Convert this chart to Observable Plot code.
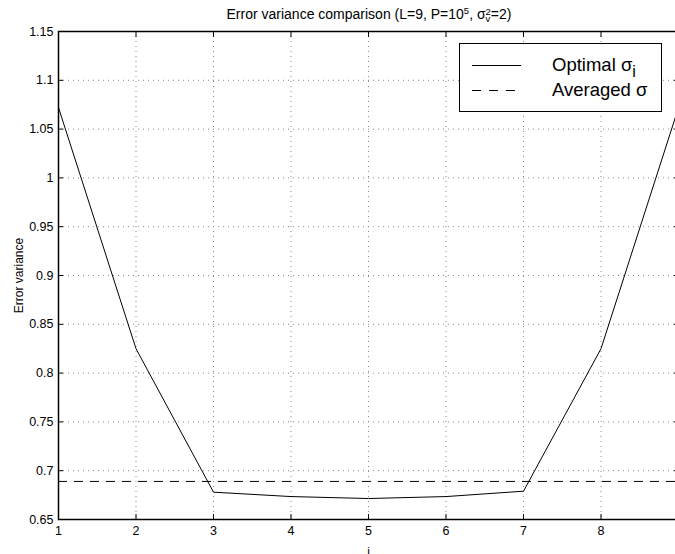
<!DOCTYPE html>
<html>
<head>
<meta charset="utf-8">
<script src="https://cdn.jsdelivr.net/npm/d3@7"></script>
<script src="https://cdn.jsdelivr.net/npm/@observablehq/plot@0.6"></script>
<style>
  html, body { margin: 0; padding: 0; background: #fff; overflow: hidden; }
  #wrap { position: relative; width: 675px; height: 554px; overflow: hidden; font-family: "Liberation Sans", Arial, sans-serif; }
  #title { position: absolute; left: 369px; top: 7px; transform: translateX(-50%); white-space: nowrap; font-size: 14px; line-height: 15px; color: #000; }
  #title sup { font-size: 9.5px; vertical-align: 5px; line-height: 0; }
  .ss { display: inline-block; vertical-align: -3px; line-height: 7px; font-size: 9.5px; text-align: left; }
  #chart svg { max-width: none !important; display: block; }
  #legend { position: absolute; left: 459px; top: 43px; }
</style>
</head>
<body>
<div id="wrap">
  <div id="chart"></div>
  <div id="title">Error variance comparison (L=9, P=10<sup>5</sup>, σ<span class="ss">2<br>v</span>=2)</div>
  <svg id="legend" width="204" height="70" font-family="Liberation Sans, Arial, sans-serif">
    <rect x="0.5" y="0.5" width="202" height="68" fill="#fff" stroke="#000" stroke-width="1"/>
    <line x1="13" x2="62" y1="22.5" y2="22.5" stroke="#000" stroke-width="1"/>
    <line x1="13" x2="62" y1="47.5" y2="47.5" stroke="#000" stroke-width="1" stroke-dasharray="9,8"/>
    <text x="93" y="28" font-size="18.5">Optimal σ<tspan font-size="16" dy="6">i</tspan></text>
    <text x="93" y="53" font-size="18.5">Averaged σ</text>
  </svg>
</div>
<script>
// Sensor index and the error variance with the per-sensor optimal sigma
const idx = [1, 2, 3, 4, 5, 6, 7, 8, 9];
const optimal = [1.072, 0.825, 0.678, 0.6735, 0.6715, 0.6735, 0.679, 0.825, 1.072];
// Error variance when a single averaged sigma is used
const averaged = 0.689;

const xTicks = [1, 2, 3, 4, 5, 6, 7, 8, 9];
const yTicks = [0.65, 0.7, 0.75, 0.8, 0.85, 0.9, 0.95, 1, 1.05, 1.1, 1.15];

const optRows = idx.map((i, k) => ({i, v: optimal[k]}));

const grid = {stroke: "#888", strokeOpacity: 1, strokeDasharray: "1,4"};

const chart = Plot.plot({
  width: 680,
  height: 554,
  marginLeft: 58,
  marginRight: 2,
  marginTop: 31,
  marginBottom: 35,
  style: {fontFamily: "'Liberation Sans', Arial, sans-serif", fontSize: "12px", color: "#000", background: "#fff"},
  x: {domain: [1, 9]},
  y: {domain: [0.65, 1.15]},
  marks: [
    Plot.gridX(xTicks.slice(1, -1), grid),
    Plot.gridY(yTicks.slice(1, -1), grid),
    Plot.axisX(xTicks, {anchor: "bottom", tickSize: -5, tickPadding: 12, tickFormat: d => String(d), label: "i", labelAnchor: "center", labelArrow: "none", labelOffset: 36, fontSize: 12.5}),
    Plot.axisX(xTicks, {anchor: "top", tickSize: -5, tickFormat: () => "", label: null}),
    Plot.axisY(yTicks, {anchor: "left", tickSize: -5, tickPadding: 10, tickFormat: d => String(+d.toFixed(2)), label: "Error variance", labelAnchor: "center", labelArrow: "none", labelOffset: 44, fontSize: 12.5}),
    Plot.axisY(yTicks, {anchor: "right", tickSize: -5, tickFormat: () => "", label: null}),
    Plot.ruleY([averaged], {stroke: "#000", strokeWidth: 1, strokeDasharray: "9,7"}),
    Plot.line(optRows, {x: "i", y: "v", stroke: "#000", strokeWidth: 1}),
    Plot.frame({stroke: "#000", strokeWidth: 1.5})
  ]
});
chart.style.maxWidth = "none";
document.getElementById("chart").appendChild(chart);
// axis titles a touch smaller than the tick labels
chart.querySelectorAll("g[aria-label='y-axis label'] text, g[aria-label='x-axis label'] text").forEach(t => t.setAttribute("font-size", "12"));
</script>
</body>
</html>
